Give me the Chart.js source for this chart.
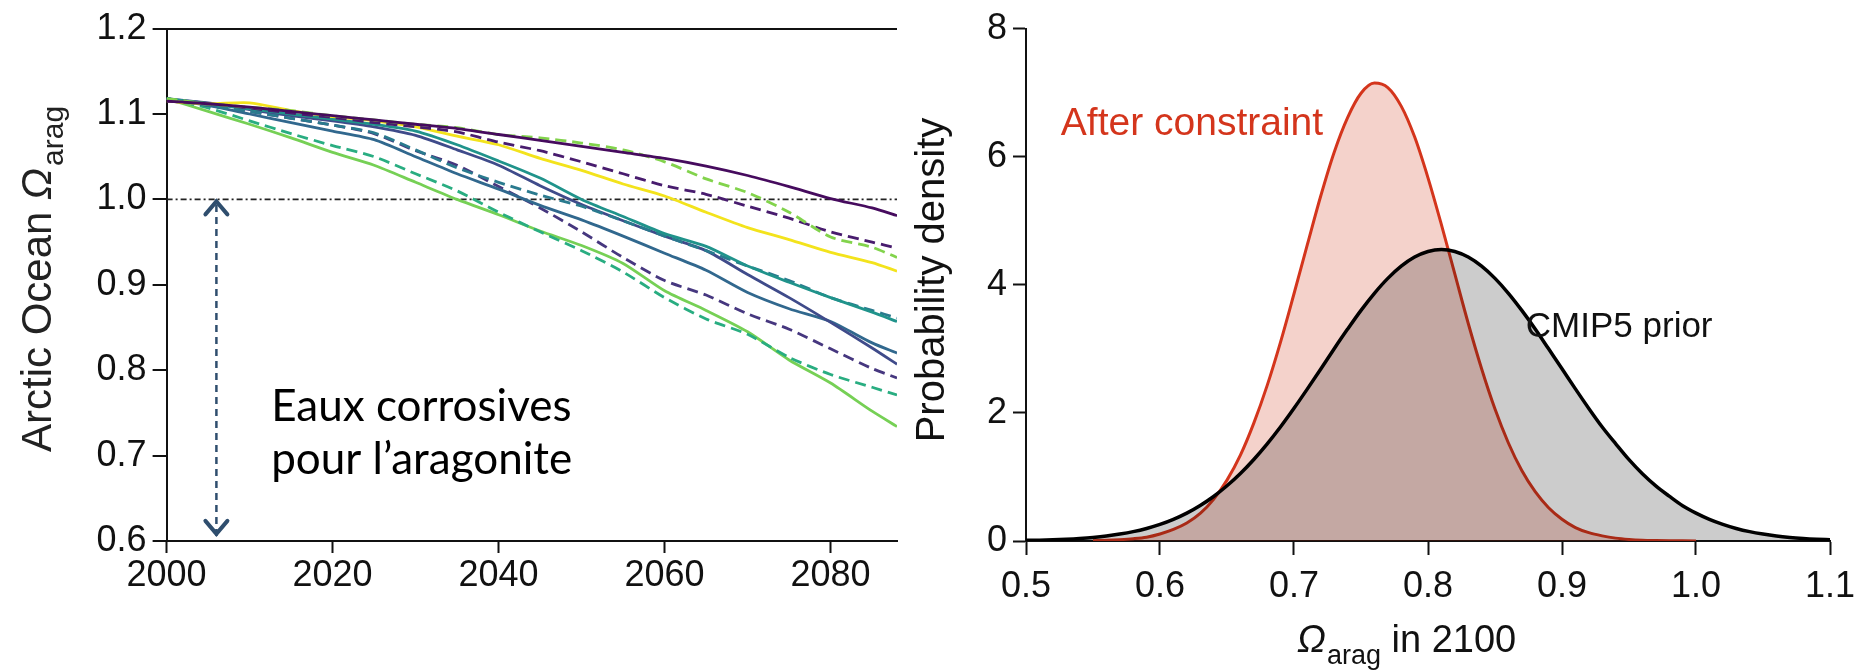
<!DOCTYPE html>
<html>
<head>
<meta charset="utf-8">
<script src="https://cdn.jsdelivr.net/npm/chart.js@4.4.1/dist/chart.umd.min.js"></script>
<style>
    html, body { margin: 0; padding: 0; background: #fff; }
    #wrap { position: relative; width: 1866px; height: 670px; overflow: hidden; }
    #left { position: absolute; left: 0; top: 0; width: 910px; height: 670px; }
    #right { position: absolute; left: 910px; top: 0; width: 956px; height: 670px; }
</style>
</head>
<body>
<div id="wrap">
    <div id="left"><canvas id="c1" width="910" height="670"></canvas></div>
    <div id="right"><canvas id="c2" width="956" height="670"></canvas></div>
</div>
<script>
// ---- left panel : Arctic Ocean omega_arag, model runs ----
var years = [2000, 2005, 2010, 2015, 2020, 2025, 2030, 2035, 2040, 2045, 2050, 2055, 2060, 2065, 2070, 2075, 2080, 2085, 2088];

var purpleSolid      = [1.115, 1.112, 1.108, 1.103, 1.098, 1.093, 1.088, 1.083, 1.076, 1.069, 1.062, 1.055, 1.048, 1.039, 1.028, 1.015, 1.001, 0.990, 0.981];
var greenDashed      = [1.118, 1.112, 1.108, 1.104, 1.098, 1.093, 1.088, 1.084, 1.076, 1.072, 1.066, 1.058, 1.044, 1.024, 1.008, 0.985, 0.956, 0.944, 0.932];
var purpleDashed     = [1.115, 1.112, 1.107, 1.101, 1.096, 1.090, 1.085, 1.079, 1.067, 1.057, 1.044, 1.030, 1.016, 1.006, 0.992, 0.978, 0.962, 0.950, 0.943];
var yellowSolid      = [1.115, 1.112, 1.113, 1.104, 1.097, 1.092, 1.085, 1.074, 1.064, 1.048, 1.034, 1.018, 1.004, 0.985, 0.967, 0.953, 0.938, 0.926, 0.916];
var tealSolid        = [1.118, 1.112, 1.106, 1.100, 1.094, 1.088, 1.080, 1.064, 1.045, 1.025, 1.000, 0.980, 0.960, 0.945, 0.922, 0.903, 0.885, 0.868, 0.857];
var blueTealDashed   = [1.118, 1.110, 1.103, 1.095, 1.087, 1.078, 1.058, 1.037, 1.020, 1.005, 0.992, 0.975, 0.957, 0.940, 0.922, 0.905, 0.885, 0.870, 0.861];
var indigoSolid      = [1.118, 1.113, 1.105, 1.098, 1.092, 1.085, 1.075, 1.058, 1.040, 1.016, 0.994, 0.975, 0.957, 0.940, 0.912, 0.885, 0.856, 0.826, 0.807];
var blueSolid        = [1.118, 1.110, 1.100, 1.090, 1.080, 1.070, 1.050, 1.030, 1.012, 0.993, 0.976, 0.957, 0.937, 0.917, 0.891, 0.872, 0.857, 0.832, 0.820];
var purpleBlueDashed = [1.118, 1.110, 1.103, 1.095, 1.087, 1.077, 1.057, 1.040, 1.015, 0.990, 0.962, 0.932, 0.905, 0.888, 0.866, 0.848, 0.825, 0.802, 0.791];
var tealDashed       = [1.118, 1.107, 1.092, 1.077, 1.063, 1.050, 1.030, 1.010, 0.985, 0.962, 0.940, 0.915, 0.885, 0.860, 0.842, 0.815, 0.795, 0.780, 0.771];
var greenSolid       = [1.118, 1.103, 1.088, 1.072, 1.055, 1.040, 1.020, 1.000, 0.982, 0.963, 0.946, 0.925, 0.893, 0.870, 0.845, 0.812, 0.785, 0.752, 0.734];

var leftYTicks = [0.6, 0.7, 0.8, 0.9, 1.0, 1.1, 1.2];
var leftXTicks = [2000, 2020, 2040, 2060, 2080];
var threshold = 1.0;
var arrowYear = 2006;
var arrowBottom = 0.606;
var noteLines = ['Eaux corrosives', 'pour l\u2019aragonite'];

// ---- right panel : probability density of omega_arag in 2100 ----
var omega = [0.50, 0.51, 0.52, 0.53, 0.54, 0.55, 0.56, 0.57, 0.58, 0.59,
             0.60, 0.61, 0.62, 0.63, 0.64, 0.65, 0.66, 0.67, 0.68, 0.69,
             0.70, 0.71, 0.72, 0.73, 0.74, 0.75, 0.76, 0.77, 0.78, 0.79,
             0.80, 0.81, 0.82, 0.83, 0.84, 0.85, 0.86, 0.87, 0.88, 0.89,
             0.90, 0.91, 0.92, 0.93, 0.94, 0.95, 0.96, 0.97, 0.98, 0.99,
             1.00, 1.01, 1.02, 1.03, 1.04, 1.05, 1.06, 1.07, 1.08, 1.09, 1.10];
var afterConstraint = [null, null, null, null, null, 0.005, 0.01, 0.02, 0.035, 0.06,
                       0.11, 0.18, 0.28, 0.43, 0.65, 0.95, 1.34, 1.84, 2.43, 3.11,
                       3.86, 4.63, 5.39, 6.07, 6.61, 6.99, 7.15, 7.08, 6.79, 6.31,
                       5.67, 4.94, 4.17, 3.40, 2.69, 2.06, 1.53, 1.10, 0.77, 0.52,
                       0.34, 0.21, 0.13, 0.08, 0.045, 0.025, 0.013, 0.007, 0.003, 0.002,
                       0.001, null, null, null, null, null, null, null, null, null, null];
var cmip5Prior = [0.01, 0.013, 0.019, 0.028, 0.04, 0.056, 0.078, 0.108, 0.146, 0.196,
                  0.259, 0.338, 0.435, 0.554, 0.695, 0.862, 1.054, 1.273, 1.517, 1.784,
                  2.072, 2.375, 2.686, 3.002, 3.308, 3.601, 3.867, 4.10, 4.291, 4.433,
                  4.52, 4.55, 4.52, 4.433, 4.291, 4.10, 3.867, 3.60, 3.31, 3.00,
                  2.69, 2.375, 2.07, 1.78, 1.52, 1.27, 1.05, 0.86, 0.70, 0.55,
                  0.435, 0.338, 0.26, 0.196, 0.146, 0.108, 0.078, 0.056, 0.04, 0.028, 0.019];
var rightXTicks = [0.5, 0.6, 0.7, 0.8, 0.9, 1.0, 1.1];
var rightYTicks = [0, 2, 4, 6, 8];

var FONT = "'Liberation Sans', Arial, sans-serif";
var tickFont = { family: FONT, size: 36 };

function pts(xs, ys) {
    return xs.map(function (x, i) { return { x: x, y: ys[i] }; });
}
function fixTicks(list) {
    return function (scale) { scale.ticks = list.map(function (v) { return { value: v }; }); };
}

var runs = [
    { data: purpleSolid,      color: '#460b5e', dash: [] },
    { data: greenDashed,      color: '#82d34c', dash: [11, 6] },
    { data: purpleDashed,     color: '#481c6e', dash: [11, 6] },
    { data: yellowSolid,      color: '#f3e31c', dash: [] },
    { data: tealSolid,        color: '#20938b', dash: [] },
    { data: blueTealDashed,   color: '#2a7a8e', dash: [11, 6] },
    { data: indigoSolid,      color: '#3f4b8a', dash: [] },
    { data: blueSolid,        color: '#31688e', dash: [] },
    { data: purpleBlueDashed, color: '#46377f', dash: [11, 6] },
    { data: tealDashed,       color: '#29ad81', dash: [11, 6] },
    { data: greenSolid,       color: '#76d055', dash: [] }
];

var leftSets = runs.map(function (r) {
    return {
        data: pts(years, r.data),
        borderColor: r.color,
        borderWidth: 2.8,
        borderDash: r.dash,
        pointRadius: 0,
        tension: 0.25,
        fill: false
    };
});
leftSets.push({
    data: [{ x: 2000, y: threshold }, { x: 2088, y: threshold }],
    borderColor: '#222', borderWidth: 1.6, borderDash: [6, 3, 2, 3], pointRadius: 0
});
leftSets.push({
    data: [{ x: arrowYear, y: arrowBottom }, { x: arrowYear, y: threshold }],
    borderColor: '#2f4e6e', borderWidth: 2.5, borderDash: [7, 5], pointRadius: 0
});

var leftText = {
    id: 'leftText',
    afterDraw: function (chart) {
        var ctx = chart.ctx, xs = chart.scales.x, ys = chart.scales.y;
        var ax = xs.getPixelForValue(arrowYear);
        var top = ys.getPixelForValue(threshold), bot = ys.getPixelForValue(arrowBottom);
        ctx.save();
        ctx.strokeStyle = '#2f4e6e';
        ctx.lineWidth = 4;
        ctx.lineCap = 'round';
        ctx.beginPath();
        ctx.moveTo(ax - 11, top + 15); ctx.lineTo(ax, top + 2); ctx.lineTo(ax + 11, top + 15);
        ctx.moveTo(ax - 11, bot - 15); ctx.lineTo(ax, bot - 2); ctx.lineTo(ax + 11, bot - 15);
        ctx.stroke();

        ctx.fillStyle = '#000';
        ctx.font = "44px Lato, 'Open Sans', sans-serif";
        ctx.textBaseline = 'alphabetic';
        ctx.fillText(noteLines[0], xs.getPixelForValue(2012.6), ys.getPixelForValue(0.740));
        ctx.fillText(noteLines[1], xs.getPixelForValue(2012.6), ys.getPixelForValue(0.678));

        // y axis title with subscript
        ctx.translate(36, 452);
        ctx.rotate(-Math.PI / 2);
        ctx.fillStyle = '#222';
        ctx.textBaseline = 'alphabetic';
        ctx.font = '42px ' + FONT;
        var t = 'Arctic Ocean ';
        ctx.fillText(t, 0, 15);
        var w = ctx.measureText(t).width;
        ctx.font = 'italic 42px ' + FONT;
        ctx.fillText('\u03A9', w, 15);
        w += ctx.measureText('\u03A9').width + 2;
        ctx.font = '30px ' + FONT;
        ctx.fillText('arag', w, 27);
        ctx.restore();
    }
};

new Chart(document.getElementById('c1'), {
    type: 'line',
    data: { datasets: leftSets },
    plugins: [leftText],
    options: {
        responsive: false,
        animation: false,
        layout: { padding: { top: 28.6, right: 13, left: 0, bottom: 0 } },
        plugins: { legend: { display: false }, tooltip: { enabled: false } },
        scales: {
            x: {
                type: 'linear', min: 2000, max: 2088,
                afterBuildTicks: fixTicks(leftXTicks),
                afterFit: function (s) { s.height = 129; },
                grid: { drawOnChartArea: false, tickLength: 12, tickColor: '#111', tickWidth: 2 },
                border: { color: '#111', width: 2 },
                ticks: { font: tickFont, color: '#111', padding: 1, maxRotation: 0,
                         callback: function (v) { return String(v); } }
            },
            y: {
                type: 'linear', min: 0.6, max: 1.2,
                afterBuildTicks: fixTicks(leftYTicks),
                afterFit: function (s) { s.width = 166.6; },
                grid: {
                    color: function (c) { return c.tick && c.tick.value === 1.2 ? '#111' : 'rgba(0,0,0,0)'; },
                    lineWidth: 2, tickLength: 14, tickColor: '#111', tickWidth: 2
                },
                border: { color: '#111', width: 2 },
                ticks: { font: tickFont, color: '#111', padding: 6,
                         callback: function (v) { return v.toFixed(1); } }
            }
        }
    }
});

var rightText = {
    id: 'rightText',
    afterDraw: function (chart) {
        var ctx = chart.ctx, xs = chart.scales.x, ys = chart.scales.y;
        ctx.save();
        ctx.textBaseline = 'middle';
        ctx.fillStyle = '#d4351c';
        ctx.font = '39px ' + FONT;
        ctx.fillText('After constraint', xs.getPixelForValue(0.526), ys.getPixelForValue(6.5));
        ctx.fillStyle = '#111';
        ctx.font = '35px ' + FONT;
        ctx.fillText('CMIP5 prior', xs.getPixelForValue(0.873), ys.getPixelForValue(3.34));

        // x title
        ctx.textBaseline = 'alphabetic';
        var x0 = 387, base = 652;
        ctx.font = 'italic 38px ' + FONT;
        ctx.fillText('\u03A9', x0, base);
        x0 += ctx.measureText('\u03A9').width + 1;
        ctx.font = '27px ' + FONT;
        ctx.fillText('arag', x0, base + 12);
        x0 += ctx.measureText('arag').width;
        ctx.font = '38px ' + FONT;
        ctx.fillText(' in 2100', x0, base);

        // y title
        ctx.translate(23, 280);
        ctx.rotate(-Math.PI / 2);
        ctx.textAlign = 'center';
        ctx.textBaseline = 'middle';
        ctx.font = '40px ' + FONT;
        ctx.fillText('Probability density', 0, 0);
        ctx.restore();
    }
};

new Chart(document.getElementById('c2'), {
    type: 'line',
    data: {
        datasets: [
            {
                data: pts(omega, cmip5Prior),
                borderColor: '#000', borderWidth: 3.5,
                backgroundColor: 'rgba(0,0,0,0.2)', fill: 'origin',
                pointRadius: 0, cubicInterpolationMode: 'monotone', order: 0
            },
            {
                data: pts(omega, afterConstraint),
                borderColor: '#d4351c', borderWidth: 3,
                backgroundColor: 'rgba(205,50,20,0.22)', fill: 'origin',
                pointRadius: 0, cubicInterpolationMode: 'monotone', order: 1
            }
        ]
    },
    plugins: [rightText],
    options: {
        responsive: false,
        animation: false,
        layout: { padding: { top: 28.6, right: 36, left: 0, bottom: 0 } },
        plugins: { legend: { display: false }, tooltip: { enabled: false } },
        scales: {
            x: {
                type: 'linear', min: 0.5, max: 1.1,
                afterBuildTicks: fixTicks(rightXTicks),
                afterFit: function (s) { s.height = 129; },
                grid: { drawOnChartArea: false, tickLength: 14, tickColor: '#111', tickWidth: 2 },
                border: { color: '#111', width: 2 },
                ticks: { font: tickFont, color: '#111', padding: 10, maxRotation: 0,
                         callback: function (v) { return v.toFixed(1); } }
            },
            y: {
                type: 'linear', min: 0, max: 8,
                afterBuildTicks: fixTicks(rightYTicks),
                afterFit: function (s) { s.width = 116; },
                grid: { drawOnChartArea: false, tickLength: 13, tickColor: '#111', tickWidth: 2 },
                border: { color: '#111', width: 2 },
                ticks: { font: tickFont, color: '#111', padding: 6,
                         callback: function (v) { return String(v); } }
            }
        }
    }
});
</script>
</body>
</html>
